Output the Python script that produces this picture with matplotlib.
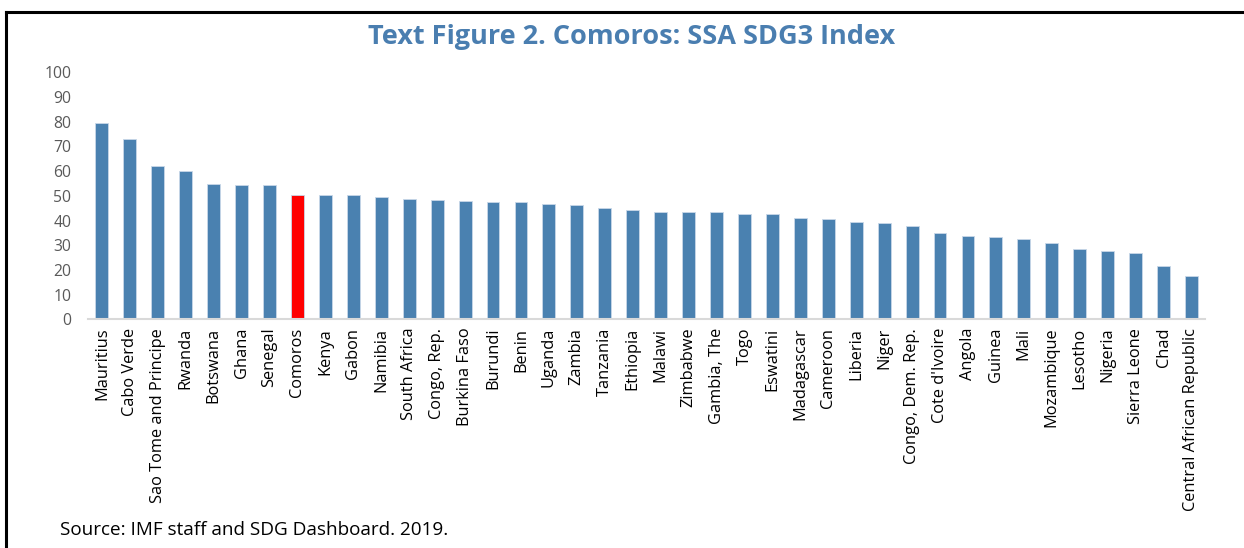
import matplotlib.pyplot as plt
from matplotlib.lines import Line2D

countries = ['Mauritius', 'Cabo Verde', 'Sao Tome and Principe', 'Rwanda', 'Botswana',
             'Ghana', 'Senegal', 'Comoros', 'Kenya', 'Gabon', 'Namibia', 'South Africa',
             'Congo, Rep.', 'Burkina Faso', 'Burundi', 'Benin', 'Uganda', 'Zambia',
             'Tanzania', 'Ethiopia', 'Malawi', 'Zimbabwe', 'Gambia, The', 'Togo',
             'Eswatini', 'Madagascar', 'Cameroon', 'Liberia', 'Niger', 'Congo, Dem. Rep.',
             "Cote d'Ivoire", 'Angola', 'Guinea', 'Mali', 'Mozambique', 'Lesotho',
             'Nigeria', 'Sierra Leone', 'Chad', 'Central African Republic']
sdg3 = [79.4, 73.0, 62.1, 59.9, 54.8, 54.3, 54.3, 50.3, 50.2, 50.2, 49.7, 48.6,
        48.5, 47.9, 47.4, 47.4, 46.8, 46.2, 45.1, 44.5, 43.3, 43.3, 43.3, 42.8,
        42.8, 41.0, 40.5, 39.4, 38.9, 37.8, 34.8, 33.7, 33.2, 32.5, 30.8, 28.5,
        27.9, 26.9, 21.6, 17.7]
highlight = 'Comoros'

plt.rcParams['font.family'] = ['Open Sans', 'DejaVu Sans']

colors = ['#ff0000' if c == highlight else '#4a81b0' for c in countries]

fig = plt.figure(figsize=(12.44, 5.48), dpi=100)
ax = fig.add_axes([0.0707, 0.417, 0.8983, 0.451])
ax.bar(range(len(countries)), sdg3, width=0.46, color=colors,
       edgecolor='#c8d8e8', linewidth=0.6)

ax.set_xlim(-0.5, len(countries) - 0.5)
ax.set_ylim(0, 100)
ax.set_yticks(range(0, 101, 10))
ax.set_xticks(range(len(countries)))
ax.set_xticklabels(countries, rotation=90, fontsize=11.8, color='black')
ax.tick_params(axis='y', length=0, labelsize=11.3, labelcolor='#595959', pad=12)
ax.tick_params(axis='x', length=0, pad=6)
for s in ['top', 'right', 'left']:
    ax.spines[s].set_visible(False)
ax.spines['bottom'].set_color('#d9d9d9')
ax.spines['bottom'].set_linewidth(1.5)

fig.text(0.508, 0.932, 'Text Figure 2. Comoros: SSA SDG3 Index', ha='center', va='center',
         fontsize=19.5, fontweight='bold', color='#4a7eb0')
fig.text(0.048, 0.033, 'Source: IMF staff and SDG Dashboard. 2019.', ha='left', va='center',
         fontsize=13.6, color='black')

# frame lines (left and top)
fig.add_artist(Line2D([0.0045, 0.0045], [0, 0.978], color='black', linewidth=2.2,
                      transform=fig.transFigure))
fig.add_artist(Line2D([0.0045, 1.0], [0.978, 0.978], color='black', linewidth=2.2,
                      transform=fig.transFigure))

plt.savefig('out.png', dpi=100)
